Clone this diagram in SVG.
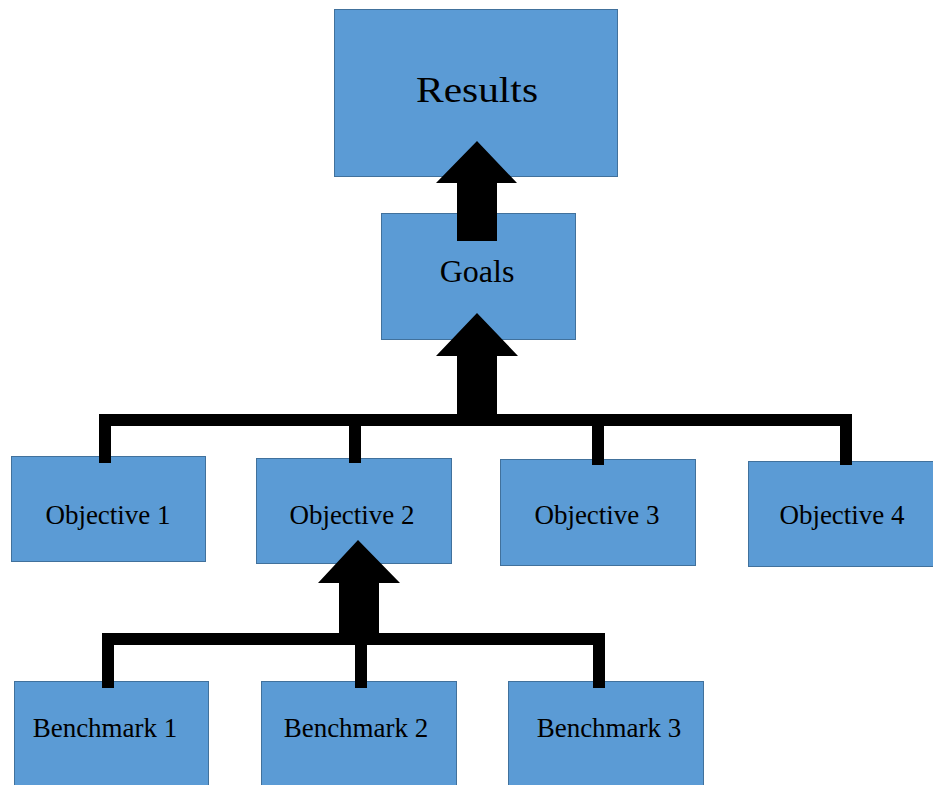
<svg xmlns="http://www.w3.org/2000/svg" width="933" height="785" viewBox="0 0 933 785">
  <style>
    .box { fill: #5B9BD5; stroke: #41719C; stroke-width: 1; }
    .label { font-family: "Liberation Serif", "Times New Roman", serif; fill: #000; text-anchor: middle; }
    .wire { fill: none; stroke: #000; stroke-width: 12; stroke-linecap: square; stroke-linejoin: miter; }
    .arrow { fill: #000; stroke: none; }
  </style>
  <rect width="933" height="785" fill="#fff"/>

  <g id="results">
    <rect class="box" x="334.5" y="9.5" width="283" height="167"/>
    <text class="label" x="477" y="102" font-size="36" textLength="122" lengthAdjust="spacingAndGlyphs">Results</text>
  </g>

  <g id="goals">
    <rect class="box" x="381.5" y="213.5" width="194" height="126"/>
    <text class="label" x="477" y="282" font-size="32">Goals</text>
  </g>

  <g id="objective-1">
    <rect class="box" x="11.5" y="456.5" width="194" height="105"/>
    <text class="label" x="108" y="524" font-size="27">Objective 1</text>
  </g>
  <g id="objective-2">
    <rect class="box" x="256.5" y="458.5" width="195" height="105"/>
    <text class="label" x="352" y="524" font-size="27">Objective 2</text>
  </g>
  <g id="objective-3">
    <rect class="box" x="500.5" y="459.5" width="195" height="106"/>
    <text class="label" x="597" y="524" font-size="27">Objective 3</text>
  </g>
  <g id="objective-4">
    <rect class="box" x="748.5" y="461.5" width="190" height="105"/>
    <text class="label" x="842" y="524" font-size="27">Objective 4</text>
  </g>

  <g id="benchmark-1">
    <rect class="box" x="14.5" y="681.5" width="194" height="110"/>
    <text class="label" x="105" y="737" font-size="27">Benchmark 1</text>
  </g>
  <g id="benchmark-2">
    <rect class="box" x="261.5" y="681.5" width="195" height="110"/>
    <text class="label" x="356" y="737" font-size="27">Benchmark 2</text>
  </g>
  <g id="benchmark-3">
    <rect class="box" x="508.5" y="681.5" width="195" height="110"/>
    <text class="label" x="609" y="737" font-size="27">Benchmark 3</text>
  </g>

  <g id="connectors">
    <!-- goals to results -->
    <polygon class="arrow" points="477,141 517,183 497,183 497,241 457,241 457,183 436,183"/>
    <!-- objectives to goals -->
    <polygon class="arrow" points="477,313 518,356 497,356 497,420 457,420 457,356 436,356"/>
    <path class="wire" d="M105,457 V420 H846 V459"/>
    <path class="wire" d="M355,420 V457"/>
    <path class="wire" d="M598,420 V459"/>
    <!-- benchmarks to objective 2 -->
    <polygon class="arrow" points="358,540 400,583 379,583 379,640 339,640 339,583 318,583"/>
    <path class="wire" d="M108,682 V639 H599 V682"/>
    <path class="wire" d="M361,639 V682"/>
  </g>
</svg>
